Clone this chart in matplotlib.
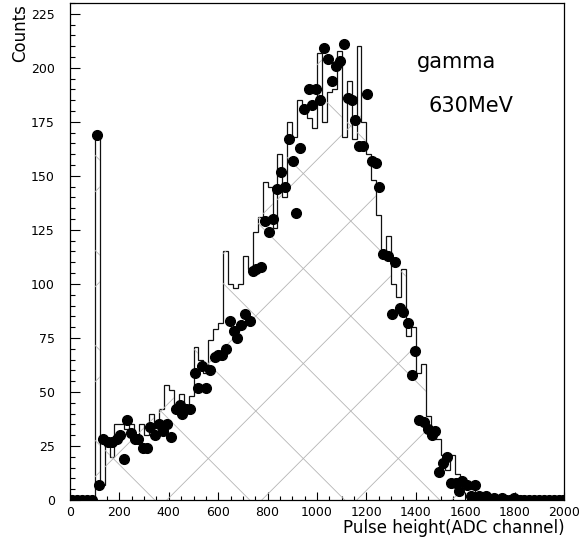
import matplotlib.pyplot as plt
import numpy as np
from matplotlib.ticker import MultipleLocator

# histogram: 20-channel bins from 0 to 2000
bin_edges = np.arange(0, 2001, 20)
sim_counts = [
    0, 0, 0, 0, 0,
    169, 7, 26, 20, 35, 35, 33, 35, 30, 35,
    30, 40, 36, 42, 53, 51, 44, 49, 43, 48,
    71, 65, 59, 74, 79, 82, 115, 100, 98, 100,
    113, 107, 124, 131, 147, 145, 126, 160, 140, 175,
    168, 185, 179, 177, 172, 207, 175, 189, 190, 208,
    168, 194, 167, 210, 175, 160, 148, 132, 114, 122,
    100, 94, 107, 76, 80, 59, 63, 39, 28, 28,
    21, 14, 21, 12, 8, 5, 5, 2, 1,
    0, 0, 0, 0, 0, 0, 0, 0, 0, 0, 0, 0, 0, 0, 0, 0,
]

# measured points
data_x = [10, 30, 50, 70, 90, 110, 118,
          135, 155, 172, 191, 202, 218, 232, 246, 262, 276, 296, 310, 323, 343,
          360, 377, 393, 408, 431, 444, 455, 471, 487, 505, 518, 536, 552, 568,
          586, 599, 614, 630, 646, 664, 677, 693, 710, 727, 741, 754, 772,
          790, 805, 822, 838, 853, 869, 885, 902, 917, 930, 949, 966, 981, 997,
          1014, 1028, 1044, 1061, 1077, 1093, 1108, 1124, 1142, 1155, 1172, 1188,
          1203, 1222, 1237, 1253, 1269, 1286, 1302, 1316, 1335, 1349, 1367, 1383,
          1398, 1413, 1434, 1448, 1464, 1479, 1495, 1511, 1526, 1542, 1562, 1575,
          1589, 1609, 1625, 1640, 1656, 1683, 1717, 1748, 1798,
          1670, 1700, 1730, 1765, 1780, 1820, 1840, 1860, 1880, 1900, 1920,
          1940, 1960, 1980, 1995]
data_y = [0, 0, 0, 0, 0, 169, 7,
          28, 27, 27, 28, 30, 19, 37, 31, 28, 28, 24, 24, 34, 30,
          35, 32, 35, 29, 42, 44, 40, 42, 42, 59, 52, 62, 52, 60,
          66, 67, 67, 70, 83, 78, 75, 81, 86, 83, 106, 107, 108,
          129, 124, 130, 144, 152, 145, 167, 157, 133, 163, 181, 190, 183, 190,
          185, 209, 204, 194, 201, 203, 211, 186, 185, 176, 164, 164,
          188, 157, 156, 145, 114, 113, 86, 110, 89, 87, 82, 58,
          69, 37, 36, 33, 30, 32, 13, 17, 20, 8, 8, 4,
          9, 7, 2, 7, 2, 2, 1, 1, 1,
          0, 0, 0, 0, 0, 0, 0, 0, 0, 0, 0,
          0, 0, 0, 0]

fig = plt.figure(figsize=(5.82, 5.47), dpi=100)
ax = fig.add_axes([70/582, 47/547, 494/582, 497/547])
ax.set_xlim(0, 2000)
ax.set_ylim(0, 230)

# histogram outline + invisible fill used to clip the cross lattice
fill = ax.stairs(sim_counts, bin_edges, fill=True, facecolor='none', edgecolor='none')
ax.stairs(sim_counts, bin_edges, color='#111111', lw=0.9)

# diagonal cross lattice under the histogram (45 deg on screen)
bbox = ax.get_position()
ax_w = bbox.width * 582
ax_h = bbox.height * 547
px_per_ch = ax_w / 2000
slope = px_per_ch / (ax_h / 230)
step = 95 / px_per_ch
xs = np.array([-4000.0, 6000.0])
for x0 in np.arange(392 - 8*step, 2000 + 8*step, step):
    ax.plot(xs, slope*(xs - x0), color='#b5b5b5', lw=0.6,
            clip_path=fill, scalex=False, scaley=False)
for x0 in np.arange(343 - 8*step, 2000 + 8*step, step):
    ax.plot(xs, -slope*(xs - x0), color='#b5b5b5', lw=0.6,
            clip_path=fill, scalex=False, scaley=False)

ax.plot(data_x, data_y, 'o', color='black', ms=7, scalex=False, scaley=False)

ax.xaxis.set_major_locator(MultipleLocator(200))
ax.xaxis.set_minor_locator(MultipleLocator(50))
ax.yaxis.set_major_locator(MultipleLocator(25))
ax.yaxis.set_minor_locator(MultipleLocator(5))
ax.tick_params(axis='x', which='major', direction='in', length=6, width=0.8, pad=4, labelsize=9)
ax.tick_params(axis='x', which='minor', direction='in', length=3, width=0.8)
ax.tick_params(axis='y', which='major', direction='in', length=7, width=0.8, pad=11, labelsize=9)
ax.tick_params(axis='y', which='minor', direction='in', length=3.5, width=0.8)
for s in ax.spines.values():
    s.set_linewidth(0.9)

ax.text(0.702, 0.869, 'gamma', transform=ax.transAxes, fontsize=15, va='baseline')
ax.text(0.725, 0.781, '630MeV', transform=ax.transAxes, fontsize=15, va='baseline')

fig.text(0.034, 0.94, 'Counts', rotation=90, fontsize=12, ha='center', va='center')
fig.text(565/582, 0.051, 'Pulse height(ADC channel)', fontsize=12, ha='right', va='top')

fig.savefig('out.png', dpi=100)
